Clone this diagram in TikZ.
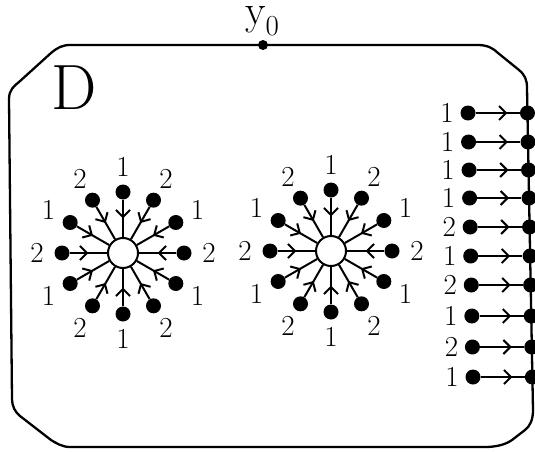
\documentclass[tikz,border=0pt]{standalone}
\usepackage{fontspec}
\usetikzlibrary{arrows.meta,calc,decorations.markings}
\begin{document}
\begin{tikzpicture}[x=1pt,y=-1pt,
  dot/.style={circle,fill=black,inner sep=0pt,minimum size=15pt},
  smalldot/.style={circle,fill=black,inner sep=0pt,minimum size=10pt},
  hub/.style={circle,draw=black,fill=white,line width=2pt,inner sep=0pt,minimum size=30pt},
  num/.style={inner sep=0pt,font=\fontsize{29}{29}\selectfont},
  spoke/.style={line width=2pt,postaction={decorate},
    decoration={markings,mark=at position 0.5 with {\arrow{Straight Barb[length=7pt,width=14pt,line width=2pt]}}}},
  link/.style={line width=2pt,postaction={decorate},
    decoration={markings,mark=at position 0.72 with {\arrow{Straight Barb[length=7pt,width=14pt,line width=2pt]}}}},
  border/.style={line width=2.3pt,line join=round}]
\useasboundingbox (0,0) rectangle (535,452);
% outer region
\draw[border] (9,99) .. controls (9,90) and (14,86) .. (19,82) -- (51,53)
  .. controls (57,48) and (62,45) .. (70,45) -- (478,45)
  .. controls (488,45) and (494,49) .. (498,53) -- (519,70)
  .. controls (525,75) and (527,80) .. (527,88) -- (533,410)
  .. controls (533,420) and (530,426) .. (525,430) -- (512,440)
  .. controls (505,445) and (495,447) .. (485,447) -- (70,447)
  .. controls (62,447) and (56,443) .. (51,440) -- (20,416)
  .. controls (15,412) and (12,406) .. (12,399) -- cycle;
\node[smalldot] (y0) at (263,45) {};
\node[inner sep=0pt,font=\fontsize{42}{42}\selectfont,anchor=base] (y0lab) at (262,25)
  {y\raisebox{-0.24em}{\fontsize{29}{29}\selectfont 0}};
\node[inner sep=0pt,font=\fontsize{64}{64}\selectfont] (D) at (74,88) {D};
% stars
\foreach \s/\cx/\cy in {A/123/253,B/331/251} {
  \node[hub] (\s c) at (\cx,\cy) {};
  \foreach \k in {0,...,11} {
    \pgfmathsetmacro\ang{90+30*\k}
    \pgfmathtruncatemacro\lab{1+mod(\k,2)}
    \node[dot] (\s d\k) at ($(\s c)+(\ang:61)$) {};
    \node[num] (\s l\k) at ($(\s c)+(\ang:86)$) {\lab};
    \draw[spoke] (\s d\k) -- (\s c);
  }
}
% right column
\foreach \yy/\l [count=\i] in {113/1,142/1,170/1,198/1,227/2,256/1,285/2,316/1,347/2,377/1} {
  \pgfmathsetmacro\xl{468+(\yy-113)*5/264}
  \pgfmathsetmacro\xr{527+6*(\yy-88)/322}
  \node[dot] (L\i) at (\xl,\yy) {};
  \node[dot] (R\i) at (\xr,\yy) {};
  \node[num] (N\i) at (\xl-21,\yy) {\l};
  \draw[link] (L\i) -- (R\i);
}
\end{tikzpicture}
\end{document}
